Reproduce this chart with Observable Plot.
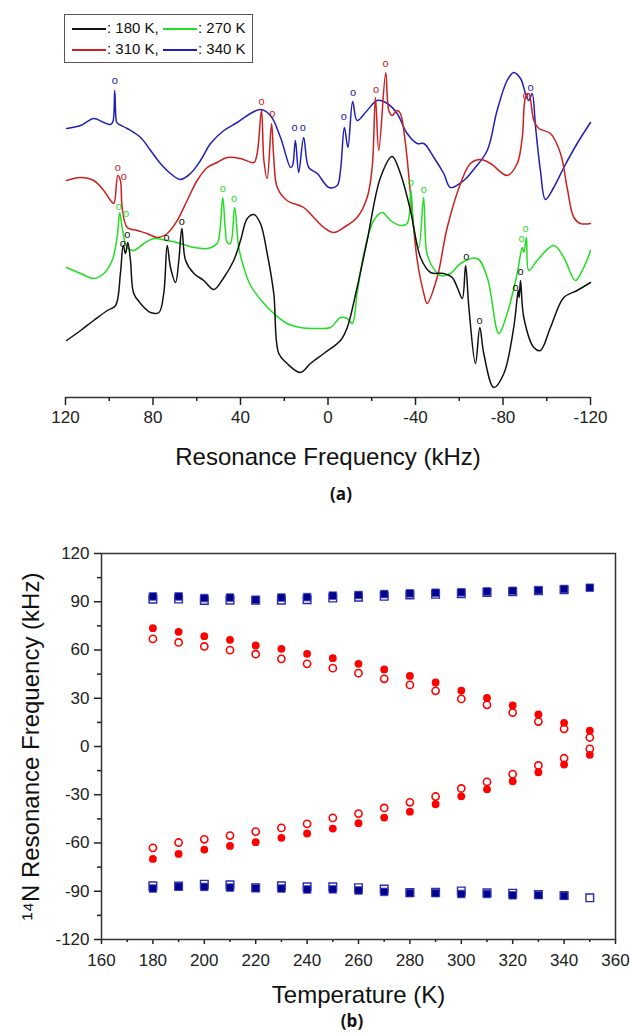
<!DOCTYPE html>
<html><head><meta charset="utf-8">
<script src="https://cdn.jsdelivr.net/npm/d3@7"></script>
<script src="https://cdn.jsdelivr.net/npm/@observablehq/plot@0.6"></script>
<style>
body{margin:0;background:#fff;font-family:"Liberation Sans",Arial,sans-serif;}
#wrap{position:relative;width:630px;height:1035px;overflow:hidden;}
#top{position:absolute;left:0;top:0;}
#bot{position:absolute;left:0;top:520px;}
.cap{position:absolute;font-family:"Open Sans",sans-serif;font-weight:bold;font-size:17px;transform:translate(-50%,-50%);color:#111;line-height:1.2;}
#legend{position:absolute;left:64px;top:14px;width:187px;height:47px;border:1.5px solid #555;background:#fff;}
#legend .sw{position:absolute;height:2px;width:34px;}
#legend .lt{position:absolute;font-size:15px;line-height:16px;color:#111;white-space:nowrap;}
</style></head>
<body><div id="wrap">
<div id="top"></div>
<div id="legend"></div>
<div class="cap" style="left:341px;top:494px;">(a)</div>
<div id="bot"></div>
<div class="cap" style="left:352px;top:1021px;">(b)</div>
</div>
<script>
// ---------- Panel (a): spectra ----------
const freq340 = [119.5,113.1,107.1,102.5,99.4,98.3,97.5,96.7,96.1,91.8,85.7,81.1,76.6,72.0,67.4,62.9,58.3,53.7,47.6,41.5,35.4,30.9,26.3,21.7,17.1,16.2,14.9,13.4,11.1,8.8,4.9,-0.4,-4.2,-5.7,-7.5,-9.1,-11.3,-13.3,-17.9,-22.5,-27.1,-31.6,-36.2,-40.8,-43.8,-48.4,-52.9,-56,-62.1,-66.6,-72.8,-77.3,-81.9,-84.9,-88,-90.3,-91.8,-93.3,-94.9,-97.1,-99.4,-103.2,-107.8,-113.9,-120];
const int340 = [269,272,279,275,273,276,307,276,274,269,260,247,234,224,218,224,237,254,267,275,284,288,282,260,230,232,257,225,260,230,224,210,212,227,270,250,296,277,287,297,294,284,264,254,254,240,224,210,217,228,247,287,317,325,319,304,297,304,270,227,198,210,230,254,275];

const freq310 = [119.5,113.1,107.1,102.5,99.4,97.9,96.1,94.9,94.1,91.8,87.2,82.7,78.1,73.5,68.9,64.4,59.8,55.2,50.7,46.1,40.0,33.9,32.4,30.4,29.3,27.8,25.8,24.8,23.2,18.7,11.1,6.5,1.9,-2.6,-7.2,-13.3,-17.9,-20.2,-21.7,-23.2,-26.4,-27.8,-29.3,-31.6,-33.1,-35.4,-37.7,-40.8,-43.8,-45.3,-49.9,-54.5,-60.6,-65.1,-69.7,-74.3,-81.9,-86.5,-88.8,-90.3,-91.8,-94.1,-96.4,-101.7,-106.3,-109.3,-112.4,-115.4,-120];
const int310 = [217,220,217,207,197,194,222,217,190,170,167,164,160,164,177,197,217,230,235,240,239,235,244,287,237,219,274,240,210,197,190,180,170,165,170,180,200,230,300,247,325,287,282,287,284,254,204,137,104,94,120,170,214,234,238,234,222,234,260,300,304,277,269,264,244,210,180,174,174];

const freq270 = [119.5,113.1,107.1,102.5,98.7,96.4,95.2,94.1,91.8,88.8,84.2,79.6,73.5,67.4,61.3,55.2,50.7,49.4,48.1,46.9,46.1,44.6,42.7,40.8,38.5,35.4,29.3,24.8,18.7,12.6,4.9,-1.1,-5.7,-8.8,-11.1,-13.3,-16.4,-20.9,-24.8,-28.6,-33.1,-36.2,-37.9,-39.2,-41.5,-43.7,-45.0,-46.9,-51.4,-56,-60.6,-68.2,-72.8,-78.1,-81.9,-86.5,-88.8,-89.5,-90.7,-91.8,-95.6,-103.2,-107.8,-113.1,-116.9,-120];
const int270 = [130,124,119,124,137,160,185,170,150,147,154,159,157,154,150,149,154,167,200,167,155,154,190,150,130,112,94,84,74,70,69,70,80,79,74,104,144,177,185,177,172,174,207,170,150,200,147,134,122,124,134,139,120,64,84,124,150,145,160,127,137,152,140,117,130,147];

const freq180 = [119.5,113.1,107.1,100.9,97.1,94.9,93.6,92.6,91.5,90.3,88.8,85.7,81.1,77.3,75.1,73.5,72.0,69.7,68.2,66.8,65.1,61.3,56.8,52.2,47.6,43.1,40.0,36.9,33.9,30.9,27.8,24.8,22.5,18.7,12.6,8.0,1.9,-5.7,-8.8,-13.3,-17.9,-24,-29.3,-33.1,-37.7,-42.3,-46.9,-52.9,-56.8,-59.1,-61.4,-62.9,-64.4,-67.4,-69.4,-71.2,-75.8,-80.4,-84.9,-86.5,-87.0,-87.4,-88,-89.5,-94.1,-97.1,-101.7,-107.8,-113.9,-120];
const int180 = [57,67,77,87,92,124,152,144,155,137,104,94,85,85,104,152,130,115,137,169,137,124,117,108,120,137,157,179,183,174,144,104,44,34,25,34,44,57,70,110,157,220,241,224,187,140,125,124,120,110,99,132,90,34,70,44,10,24,70,100,107,100,117,80,50,47,70,100,107,115];

// peak markers "o"
const markF340 = [97.5,15.3,11.5,-7.2,-11.5,-92.6];
const markI340 = [317,270,270,281,305,310];
const markF310 = [96.1,93.3,30.4,25.5,-22,-26.3,-90.3];
const markI310 = [230,221,296,284,308,334,302];
const markF270 = [95.6,92.3,48.1,42.9,-37.9,-43.8,-88.5,-90.3];
const markI270 = [191,184,209,199,215,208,159,169];
const markF180 = [93.8,91.8,73.8,66.8,-63.2,-69.3,-85.7,-88];
const markI180 = [154,163,160,176,141,77,110,126];

const seriesLabels = ["180 K","270 K","310 K","340 K"];
const seriesColors = ["#111111","#22dd22","#cc2020","#2020b8"];
const freqTicksMajor = [120,80,40,0,-40,-80,-120];
const freqTicksMinor = [100,60,20,-20,-60,-100];

const spectra = [
  {label:"340 K", color:seriesColors[3], f:freq340, I:int340, mf:markF340, mi:markI340},
  {label:"310 K", color:seriesColors[2], f:freq310, I:int310, mf:markF310, mi:markI310},
  {label:"270 K", color:seriesColors[1], f:freq270, I:int270, mf:markF270, mi:markI270},
  {label:"180 K", color:seriesColors[0], f:freq180, I:int180, mf:markF180, mi:markI180}
];

const font = "Liberation Sans, Arial, sans-serif";
const topMarks = [
  Plot.ruleY([0], {stroke:"#333", strokeWidth:1.5}),
  Plot.axisX(freqTicksMajor, {tickSize:8, tickPadding:5, fontSize:17, tickFormat:d=>String(d), color:"#222", strokeWidth:1.5, label:null}),
  Plot.axisX(freqTicksMinor, {tickSize:4, text:null, color:"#222", strokeWidth:1.5, label:null}),
  Plot.text(["Resonance Frequency (kHz)"], {frameAnchor:"bottom", lineAnchor:"middle", dy:60, fontSize:24, fill:"#111"})
];
for (const s of spectra) {
  const pts = s.f.map((f,i)=>({f, I:s.I[i]}));
  topMarks.push(Plot.line(pts, {x:"f", y:"I", stroke:s.color, strokeWidth:1.5, curve:"catmull-rom"}));
}
for (const s of spectra) {
  const m = s.mf.map((f,i)=>({f, I:s.mi[i]}));
  topMarks.push(Plot.text(m, {x:"f", y:"I", text:()=>"o", fill:s.color, fontSize:11}));
}
const topPlot = Plot.plot({
  width:630, height:480, marginLeft:65, marginRight:40, marginTop:0, marginBottom:83,
  x:{domain:[120,-120], axis:null},
  y:{domain:[0,397], axis:null},
  style:{fontFamily:font, background:"transparent"},
  marks: topMarks
});
document.getElementById("top").appendChild(topPlot);

// legend
const legend = document.getElementById("legend");
const legendPos = [[7,14],[98,14],[7,35],[98,35]]; // order: 180, 270, 310, 340
seriesLabels.forEach((lab,i)=>{
  const [lx,ly] = legendPos[i];
  const sw = document.createElement("div");
  sw.className="sw"; sw.style.left=lx+"px"; sw.style.top=(ly-1)+"px"; sw.style.backgroundColor=seriesColors[i];
  legend.appendChild(sw);
  const t = document.createElement("span");
  t.className="lt"; t.style.left=(lx+35)+"px"; t.style.top=(ly-9)+"px";
  t.textContent = ": " + lab + (i%2===0 ? "," : "");
  legend.appendChild(t);
});

// ---------- Panel (b): resonance frequency vs temperature ----------
const temps = [180,190,200,210,220,230,240,250,260,270,280,290,300,310,320,330,340,350];
const blueUpperFilled = [93.3,93.3,92.3,92.6,91.2,92.6,92.9,93.8,94.2,94.8,95.2,95.6,95.9,96.4,96.8,97.2,97.9,98.7];
const blueUpperOpen   = [91.6,91.7,90.8,91.0,91.0,91.0,91.3,92.3,92.8,93.4,94.2,94.6,95.0,95.8,96.2,96.8,97.5];
const redUpperFilled  = [73.6,71.3,68.6,66.3,62.8,60.7,57.6,54.9,51.4,47.9,43.9,39.8,34.8,30.2,25.5,19.9,14.7,9.9];
const redUpperOpen    = [66.9,64.7,62.2,59.9,57.4,54.5,51.4,48.7,45.6,42.1,38.3,34.6,29.6,25.9,21.1,15.5,11.0,5.6];
const redLowerOpen    = [-63,-59.7,-57.7,-55.4,-52.9,-50.6,-48.1,-44.4,-41.7,-38.2,-34.7,-31.1,-26.1,-22,-17.2,-11.8,-7.3,-1.5];
const redLowerFilled  = [-69.9,-66.8,-64.1,-61.8,-59.5,-56.8,-54.1,-51,-47.7,-44.2,-40.5,-35.9,-31,-26.6,-21.6,-16,-11.2,-5.2];
const blueLowerFilled = [-88.3,-87.2,-87.3,-87.7,-88.1,-88.3,-88.9,-88.8,-89.5,-90.4,-91.2,-91.2,-91.7,-91.7,-92.5,-92.4,-92.9];
const blueLowerOpen   = [-86.6,-86.8,-85.6,-86.0,-87.8,-86.6,-87.2,-87.2,-87.8,-88.6,-90.8,-90.6,-89.8,-91.0,-91.2,-92.0,-92.6,-94.1];
const tempTicksMajor = [160,180,200,220,240,260,280,300,320,340,360];
const tempTicksMinor = [170,190,210,230,250,270,290,310,330,350];
const freqAxisMajor = [-120,-90,-60,-30,0,30,60,90,120];
const freqAxisMinor = [-105,-75,-45,-15,15,45,75,105];

const pts = arr => arr.map((v,i)=>({T:temps[i], v}));
const navy = "#00008e", red = "#ff0000";
const botPlot = Plot.plot({
  width:630, height:490, marginTop:33, marginBottom:71, marginLeft:101, marginRight:15,
  x:{domain:[160,360], axis:null},
  y:{domain:[-120,120], axis:null},
  style:{fontFamily:font, background:"transparent"},
  marks:[
    Plot.axisX(tempTicksMajor, {tickSize:5, tickPadding:9, fontSize:17, color:"#222", strokeWidth:1.5, label:null}),
    Plot.axisX(tempTicksMinor, {tickSize:3, text:null, color:"#222", strokeWidth:1.5, label:null}),
    Plot.axisY(freqAxisMajor, {tickSize:7, tickPadding:5, fontSize:17, tickFormat:d=>String(d), color:"#222", strokeWidth:1.5, label:null}),
    Plot.axisY(freqAxisMinor, {tickSize:4, text:null, color:"#222", strokeWidth:1.5, label:null}),
    Plot.frame({stroke:"#333", strokeWidth:1.5}),
    Plot.text(["Temperature (K)"], {frameAnchor:"bottom", lineAnchor:"middle", dy:56, fontSize:24, fill:"#111"}),
    Plot.text(["\u00B9\u2074N Resonance Frequency (kHz)"], {frameAnchor:"left", lineAnchor:"middle", textAnchor:"middle", rotate:-90, dx:-70, fontSize:24, fill:"#111"}),
    Plot.dot(pts(blueUpperOpen), {x:"T", y:"v", symbol:"square", r:4.3, fill:"white", stroke:"#2a2ab0", strokeWidth:1.4}),
    Plot.dot(pts(blueUpperFilled), {x:"T", y:"v", symbol:"square", r:4.3, fill:navy, stroke:"#4848c0", strokeWidth:0.8}),
    Plot.dot(pts(blueLowerOpen), {x:"T", y:"v", symbol:"square", r:4.3, fill:"white", stroke:"#2a2ab0", strokeWidth:1.4}),
    Plot.dot(pts(blueLowerFilled), {x:"T", y:"v", symbol:"square", r:4.3, fill:navy, stroke:"#4848c0", strokeWidth:0.8}),
    Plot.dot(pts(redUpperOpen), {x:"T", y:"v", r:3.6, fill:"white", stroke:red, strokeWidth:1.6}),
    Plot.dot(pts(redUpperFilled), {x:"T", y:"v", r:3.9, fill:red}),
    Plot.dot(pts(redLowerOpen), {x:"T", y:"v", r:3.6, fill:"white", stroke:red, strokeWidth:1.6}),
    Plot.dot(pts(redLowerFilled), {x:"T", y:"v", r:3.9, fill:red})
  ]
});
document.getElementById("bot").appendChild(botPlot);
</script>
</body></html>
